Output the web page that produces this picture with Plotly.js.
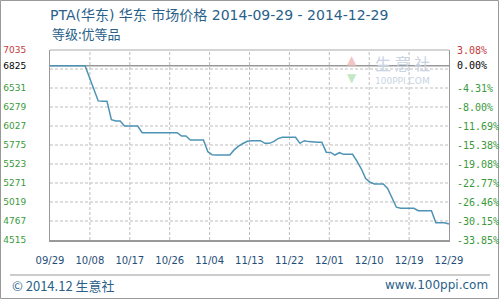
<!DOCTYPE html>
<html><head><meta charset="utf-8">
<script src="https://cdn.plot.ly/plotly-3.0.1.min.js"></script>
<style>html,body{margin:0;padding:0;background:#fff}#chart{width:500px;height:300px}</style>
</head><body><div id="chart"></div>
<script>
const startDate = '2014-09-29';
const endDate = '2014-12-29';
const prices = [
 6825,6825,6825,6825,6825,6825,6825,6825,6825,
 6670,6515,6360,6355,6355,6110,6093,6093,6027,6027,6027,6027,
 5938,5938,5938,5938,5938,5938,5938,5938,5938,
 5894,5894,5841,5841,5841,5841,5686,5645,5642,5642,5642,5642,
 5710,5760,5795,5825,5832,5837,5832,5797,5797,5820,5860,5877,5877,5877,5877,
 5797,5832,5820,5811,5811,5811,5680,5676,5642,5673,5651,5651,5651,
 5560,5460,5330,5280,5258,5258,5258,5200,5070,4950,4935,4935,4935,4935,
 4904,4904,4904,4904,4745,4745,4745,4727
];
const xTickLabels = ['09/29','10/08','10/17','10/26','11/04','11/13','11/22','12/01','12/10','12/19','12/29'];
const yMin = 4515, yMax = 7035, basePrice = 6825;
const yTickValues = [4515,4767,5019,5271,5523,5775,6027,6279,6531,6783,6825,7035];
const yGridValues = [4767,5019,5271,5523,5775,6027,6279,6531,6783];
const leftLabels = ['4515','4767','5019','5271','5523','5775','6027','6279','6531','','6825','7035'];
const rightLabels = ['-33.85%','-30.15%','-26.46%','-22.77%','-19.08%','-15.38%','-11.69%','-8.00%','-4.31%','','0.00%','3.08%'];

const GREEN = '#3a9a3a', RED = '#c43c3c', BLACK = '#000';
function colorFor(v){ return v === yMax ? RED : (v === basePrice ? BLACK : GREEN); }

const dates = [];
const t0 = Date.parse(startDate + 'T00:00:00Z');
for (let i = 0; i < prices.length; i++) {
  dates.push(new Date(t0 + i*86400000).toISOString().slice(0,10));
}
const t1 = Date.parse(endDate + 'T00:00:00Z');
const xTickVals = xTickLabels.map((_, k) => new Date(t0 + k*(t1 - t0)/(xTickLabels.length - 1)).toISOString().replace('T',' ').slice(0,19));

// grid drawn as line traces through the axes' own scales
const gvx = [], gvy = [];
xTickVals.slice(1, -1).forEach(v => { gvx.push(v, v, null); gvy.push(yMin, yMax, null); });
const ghx = [], ghy = [];
yGridValues.forEach(v => { ghx.push(startDate, endDate, null); ghy.push(v, v, null); });

const gridStyle = {color: '#bdbdbd', width: 1, dash: '3px,2px'};
const traces = [
  {x: gvx, y: gvy, type: 'scatter', mode: 'lines', line: gridStyle, hoverinfo: 'skip', showlegend: false, connectgaps: false},
  {x: ghx, y: ghy, type: 'scatter', mode: 'lines', line: gridStyle, hoverinfo: 'skip', showlegend: false, connectgaps: false},
  {x: [startDate, endDate], y: [basePrice, basePrice], type: 'scatter', mode: 'lines', line: {color: '#999', width: 1.5}, hoverinfo: 'skip', showlegend: false},
  {x: dates, y: prices, type: 'scatter', mode: 'lines', line: {color: '#4d93b6', width: 1.5}, hoverinfo: 'skip', showlegend: false}
];

const pxX = px => (px - 50) / 399;
const pxY = px => (240 - px) / 190;

const annotations = [
  {text: '等级:优等品', xref: 'paper', yref: 'paper', x: 0, y: pxY(34), xanchor: 'left', yanchor: 'middle', showarrow: false,
   font: {family: 'Noto Sans CJK SC', size: 13, color: '#2a5f8a'}},
  {text: '© 2014.12 生意社', xref: 'paper', yref: 'paper', x: pxX(10), y: pxY(285), xanchor: 'left', yanchor: 'middle', showarrow: false,
   font: {family: 'Noto Sans CJK SC', size: 13, color: '#2a5f8a'}},
  {text: 'www.100ppi.com', xref: 'paper', yref: 'paper', x: pxX(490), y: pxY(285), xanchor: 'right', yanchor: 'middle', showarrow: false,
   font: {family: 'DejaVu Sans', size: 12, color: '#2a5f8a'}},
  {text: '生 意 社', xref: 'paper', yref: 'paper', x: pxX(402), y: pxY(63), xanchor: 'center', yanchor: 'middle', showarrow: false,
   font: {family: 'Noto Sans CJK SC', size: 16, color: '#c9d3e3'}},
  {text: '100PPI.COM', xref: 'paper', yref: 'paper', x: pxX(402), y: pxY(81), xanchor: 'center', yanchor: 'middle', showarrow: false,
   font: {family: 'DejaVu Sans', size: 9, color: '#c9d3e3'}},
  {text: '▲', xref: 'paper', yref: 'paper', x: pxX(352), y: pxY(60), xanchor: 'center', yanchor: 'middle', showarrow: false,
   font: {family: 'DejaVu Sans', size: 12, color: '#f4c4c4'}},
  {text: '▼', xref: 'paper', yref: 'paper', x: pxX(352), y: pxY(78), xanchor: 'center', yanchor: 'middle', showarrow: false,
   font: {family: 'DejaVu Sans', size: 12, color: '#c4e8c4'}}
];
rightLabels.forEach((s, i) => {
  if (!s) return;
  annotations.push({text: s, xref: 'paper', yref: 'y', x: pxX(455), y: yTickValues[i], xanchor: 'left', yanchor: 'middle', showarrow: false,
    font: {family: 'DejaVu Sans Mono', size: 10, color: colorFor(yTickValues[i])}});
});

const layout = {
  width: 500, height: 300,
  margin: {l: 50, r: 51, t: 50, b: 60, pad: 0},
  paper_bgcolor: '#fff', plot_bgcolor: '#fff',
  showlegend: false,
  title: {text: 'PTA(华东) 华东 市场价格 2014-09-29 - 2014-12-29', x: 0.1, xref: 'container', xanchor: 'left', y: 1 - 15/300, yref: 'container', yanchor: 'middle',
          font: {family: 'DejaVu Sans, Noto Sans CJK SC', size: 14, color: '#2a5f8a'}},
  xaxis: {type: 'date', range: [startDate, endDate], tickmode: 'array', tickvals: xTickVals, ticktext: xTickLabels,
          showgrid: false, showline: true, linecolor: '#999', linewidth: 2, mirror: false, ticks: '', zeroline: false,
          tickfont: {family: 'DejaVu Sans', size: 10, color: '#1f4e79'}, ticklabelstandoff: 10, fixedrange: true},
  yaxis: {range: [yMin, yMax], tickmode: 'array', tickvals: yTickValues,
          ticktext: leftLabels.map((s, i) => s ? '<span style="color:' + colorFor(yTickValues[i]) + '">' + s + '</span>' : ''),
          showgrid: false, showline: true, linecolor: '#999', linewidth: 1, mirror: true, ticks: '', zeroline: false,
          tickfont: {family: 'DejaVu Sans', size: 9, color: GREEN}, ticklabelstandoff: 21, fixedrange: true},
  shapes: [
    {type: 'line', xref: 'paper', yref: 'paper', x0: 0, x1: 1, y0: 1, y1: 1, line: {color: '#aaa', width: 1}},
    {type: 'line', xref: 'paper', yref: 'paper', x0: pxX(10), x1: pxX(490), y0: pxY(275), y1: pxY(275), line: {color: '#999', width: 1}},
    {type: 'rect', xref: 'paper', yref: 'paper', x0: pxX(0.5), x1: pxX(498.5), y0: pxY(298.5), y1: pxY(0.5), line: {color: '#999', width: 1}, fillcolor: 'rgba(0,0,0,0)'}
  ],
  annotations: annotations
};
Plotly.newPlot('chart', traces, layout, {displayModeBar: false, staticPlot: true});
</script></body></html>
